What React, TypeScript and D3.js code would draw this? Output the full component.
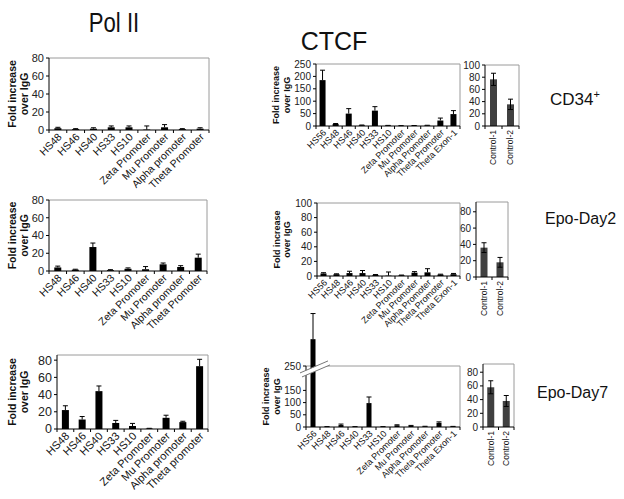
import React from "react";
import * as d3 from "d3";

const FONT = "'Liberation Sans', Arial, sans-serif";

// ---- Pol II ----
const polCats = ["HS48", "HS46", "HS40", "HS33", "HS10", "Zeta Promoter", "Mu Promoter", "Alpha promoter", "Theta Promoter"];
const polCatsDay7 = ["HS48", "HS46", "HS40", "HS33", "HS10", "Zeta Promoter", "Mu Promoter", "Alpha promoter", "Theta promoter"];
const polCD34 = [2, 1, 1.5, 3, 3, 0.5, 3, 1, 1.5];
const polCD34Err = [1, 0.5, 1, 1.5, 1.5, 4, 3, 0.5, 1];
const polDay2 = [4, 1.5, 27, 1, 2.5, 2, 7.5, 4.5, 15];
const polDay2Err = [1.5, 0.5, 4.5, 0.5, 1, 3, 1.5, 1.5, 4];
const polDay7 = [22, 11, 44, 7, 3.5, 0.5, 13, 8, 73];
const polDay7Err = [5, 3.5, 6, 3, 3, 0.3, 3, 1, 8];
const polTicks = [0, 20, 40, 60, 80];

// ---- CTCF ----
const ctcfCats = ["HS56", "HS48", "HS46", "HS40", "HS33", "HS10", "Zeta Promoter", "Mu Promoter", "Alpha Promoter", "Theta Promoter", "Theta Exon-1"];
const ctcfCD34 = [185, 8, 50, 3, 62, 2, 1, 1.5, 2, 22, 48];
const ctcfCD34Err = [40, 2, 20, 1, 16, 0.5, 0.5, 0.5, 1, 10, 14];
const ctcfDay2 = [3.5, 2.5, 4, 4, 1.5, 0.5, 1, 4.5, 5, 2, 2.5];
const ctcfDay2Err = [1, 0.5, 2.5, 3.5, 0.5, 5, 0.3, 1.5, 5, 0.5, 1];
const ctcfDay7 = [360, 1, 8, 1, 98, 1, 7, 5, 2, 17, 2];
const ctcfDay7Err = [105, 0.5, 4, 0.5, 25, 0.5, 2, 1.5, 1, 4, 0.5];
const ctcfTicks250 = [0, 50, 100, 150, 200, 250];
const ctcfTicksBroken = [0, 50, 100, 150, 250];
const ctcfTicks100 = [0, 20, 40, 60, 80, 100];

// ---- Controls ----
const ctrlCats = ["Control-1", "Control-2"];
const ctrlCD34 = [76.5, 35.5];
const ctrlCD34Err = [10, 8.5];
const ctrlDay2 = [36, 18];
const ctrlDay2Err = [6, 6];
const ctrlDay7 = [58, 38];
const ctrlDay7Err = [9.5, 8];
const ctrlTicks100 = [0, 20, 40, 60, 80, 100];
const ctrlTicks80 = [0, 20, 40, 60, 80];

const rowLabels = ["CD34", "Epo-Day2", "Epo-Day7"];

type PanelProps = {
  left: number; right: number; top: number; bottom: number;
  max: number; ticks: number[]; cats: string[]; values: number[]; errs: number[];
  barW: number; color: string; tickFont: number; catFont: number;
  vertical?: boolean; bothErr?: boolean;
  yLabel?: { x1: number; x2: number; fs: number };
  breakValue?: number;
};

function Panel(p: PanelProps) {
  const x = d3.scaleBand<string>().domain(p.cats).range([p.left, p.right]);
  const y = d3.scaleLinear().domain([0, p.max]).range([p.bottom, p.top]);
  const bw = x.bandwidth();
  const cy = (p.top + p.bottom) / 2;
  const yb = p.breakValue !== undefined ? y(p.breakValue) : 0;
  return (
    <g fontFamily={FONT}>
      {/* frame */}
      <line x1={p.left} x2={p.right} y1={p.top} y2={p.top} stroke="#9a9a9a" strokeWidth={1} />
      <line x1={p.right} x2={p.right} y1={p.top} y2={p.bottom} stroke="#9a9a9a" strokeWidth={1} />
      {/* bars */}
      {p.cats.map((c, i) => {
        const cx = (x(c) as number) + bw / 2;
        const v = p.values[i];
        const e = p.errs[i];
        return (
          <g key={c}>
            <rect x={cx - p.barW / 2} y={y(v)} width={p.barW} height={p.bottom - y(v)} fill={p.color} />
            <line x1={cx} x2={cx} y1={y(v + e)} y2={p.bothErr ? y(Math.max(0, v - e)) : y(v)} stroke="#000" strokeWidth={1} />
            <line x1={cx - 2.5} x2={cx + 2.5} y1={y(v + e)} y2={y(v + e)} stroke="#000" strokeWidth={1} />
            {p.bothErr && (
              <line x1={cx - 2.5} x2={cx + 2.5} y1={y(v - e)} y2={y(v - e)} stroke="#000" strokeWidth={1} />
            )}
          </g>
        );
      })}
      {/* axes */}
      <line x1={p.left} x2={p.left} y1={p.top} y2={p.bottom} stroke="#000" strokeWidth={1} />
      <line x1={p.left} x2={p.right} y1={p.bottom} y2={p.bottom} stroke="#000" strokeWidth={1} />
      {p.ticks.map((t) => (
        <g key={t}>
          <line x1={p.left - 3} x2={p.left} y1={y(t)} y2={y(t)} stroke="#000" />
          <text x={p.left - 5} y={y(t)} dy="0.35em" textAnchor="end" fontSize={p.tickFont} fill="#222">{t}</text>
        </g>
      ))}
      {p.cats.map((c, i) => (
        <line key={"bt" + i} x1={x(c) as number} x2={x(c) as number} y1={p.bottom} y2={p.bottom + 3} stroke="#000" />
      ))}
      <line x1={p.right} x2={p.right} y1={p.bottom} y2={p.bottom + 3} stroke="#000" />
      {/* category labels */}
      {p.cats.map((c) => {
        const cx = (x(c) as number) + bw / 2;
        return p.vertical ? (
          <text key={"l" + c} transform={`translate(${cx},${p.bottom + 4}) rotate(-90)`} dy="0.35em" textAnchor="end" fontSize={p.catFont} fill="#111">{c}</text>
        ) : (
          <text key={"l" + c} transform={`translate(${cx + 2},${p.bottom + 5}) rotate(-45)`} dy="0.35em" textAnchor="end" fontSize={p.catFont} fill="#111">{c}</text>
        );
      })}
      {/* break */}
      {p.breakValue !== undefined && (
        <g>
          <polygon points={`${p.left - 6},${yb + 4} ${p.left + 22},${yb - 8} ${p.left + 24},${yb - 4} ${p.left - 4},${yb + 8}`} fill="#fff" />
          <line x1={p.left - 6} y1={yb + 4} x2={p.left + 22} y2={yb - 8} stroke="#777" />
          <line x1={p.left - 4} y1={yb + 8} x2={p.left + 24} y2={yb - 4} stroke="#777" />
        </g>
      )}
      {/* y label */}
      {p.yLabel && (
        <g fontWeight="bold" fontSize={p.yLabel.fs} fill="#111">
          <text transform={`translate(${p.yLabel.x1},${cy}) rotate(-90)`} textAnchor="middle">Fold increase</text>
          <text transform={`translate(${p.yLabel.x2},${cy}) rotate(-90)`} textAnchor="middle">over IgG</text>
        </g>
      )}
    </g>
  );
}

export default function App() {
  return (
    <svg width={624} height={499} style={{ display: "block", position: "absolute", left: 0, top: 0, background: "#fff" }}>
      <rect width={624} height={499} fill="#fff" />
      {/* titles */}
      <text transform="translate(114,32) scale(0.82,1)" textAnchor="middle" fontFamily={FONT} fontSize={27} fill="#111">Pol II</text>
      <text x={334} y={50} textAnchor="middle" fontFamily={FONT} fontSize={25} fill="#111">CTCF</text>

      {/* Pol II */}
      <Panel left={49} right={209} top={58} bottom={130} max={80} ticks={polTicks} cats={polCats} values={polCD34} errs={polCD34Err}
        barW={7} color="#000" tickFont={11} catFont={10.5} yLabel={{ x1: 16, x2: 28, fs: 10.5 }} />
      <Panel left={49} right={207} top={200} bottom={271} max={80} ticks={polTicks} cats={polCats} values={polDay2} errs={polDay2Err}
        barW={7} color="#000" tickFont={11} catFont={10.5} yLabel={{ x1: 16, x2: 28, fs: 10.5 }} />
      <Panel left={57} right={208} top={355} bottom={429} max={86} ticks={polTicks} cats={polCatsDay7} values={polDay7} errs={polDay7Err}
        barW={7} color="#000" tickFont={12.5} catFont={11} yLabel={{ x1: 16, x2: 28, fs: 10.5 }} />

      {/* CTCF */}
      <Panel left={316} right={460} top={64} bottom={126} max={250} ticks={ctcfTicks250} cats={ctcfCats} values={ctcfCD34} errs={ctcfCD34Err}
        barW={6} color="#000" tickFont={10} catFont={9} yLabel={{ x1: 279, x2: 290, fs: 9 }} />
      <Panel left={317} right={460} top={203} bottom={276} max={100} ticks={ctcfTicks100} cats={ctcfCats} values={ctcfDay2} errs={ctcfDay2Err}
        barW={6} color="#000" tickFont={10} catFont={9} yLabel={{ x1: 280, x2: 290, fs: 9 }} />
      <Panel left={306} right={460} top={366} bottom={427} max={250} ticks={ctcfTicksBroken} cats={ctcfCats} values={ctcfDay7} errs={ctcfDay7Err}
        barW={5} color="#000" tickFont={10} catFont={9} yLabel={{ x1: 269, x2: 280, fs: 9 }} breakValue={238} />

      {/* Controls */}
      <Panel left={485} right={519} top={65} bottom={126} max={100} ticks={ctrlTicks100} cats={ctrlCats} values={ctrlCD34} errs={ctrlCD34Err}
        barW={7} color="#404040" tickFont={10} catFont={8.5} vertical bothErr />
      <Panel left={476} right={508} top={202} bottom={277} max={92} ticks={ctrlTicks80} cats={ctrlCats} values={ctrlDay2} errs={ctrlDay2Err}
        barW={7} color="#404040" tickFont={10} catFont={8.5} vertical bothErr />
      <Panel left={483} right={514} top={364} bottom={427} max={92} ticks={ctrlTicks80} cats={ctrlCats} values={ctrlDay7} errs={ctrlDay7Err}
        barW={7} color="#404040" tickFont={10} catFont={8.5} vertical bothErr />

      {/* row labels */}
      <text x={550} y={105} fontFamily={FONT} fontSize={17} fill="#111">{rowLabels[0]}<tspan dy={-7} fontSize={11}>+</tspan></text>
      <text x={545} y={224} fontFamily={FONT} fontSize={16} fill="#111">{rowLabels[1]}</text>
      <text x={537} y={398} fontFamily={FONT} fontSize={16} fill="#111">{rowLabels[2]}</text>
    </svg>
  );
}
